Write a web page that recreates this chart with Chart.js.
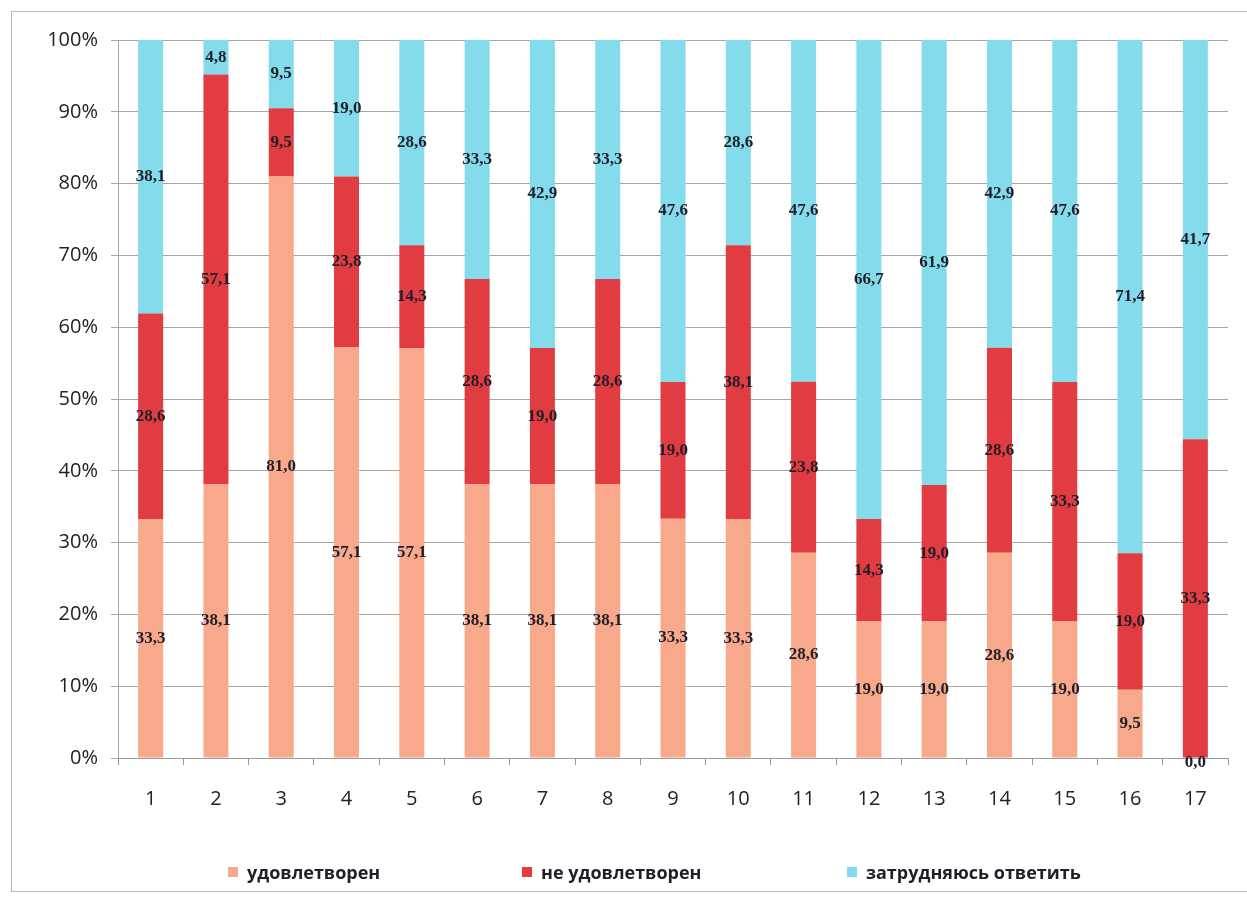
<!DOCTYPE html>
<html>
<head>
<meta charset="utf-8">
<script src="https://cdn.jsdelivr.net/npm/chart.js@4.4.1/dist/chart.umd.min.js"></script>
<style>
  html, body { margin:0; padding:0; background:#fff; }
  #wrap { position:relative; width:1247px; height:899px; overflow:hidden; }
  #frame { position:absolute; left:11px; top:11px; width:1260px; height:881px; border:1px solid #b8b8b8; box-sizing:border-box; }
  canvas { position:absolute; left:0; top:0; }
  .lg { position:absolute; top:862px; height:20px; display:flex; align-items:center;
        font:bold 18px "Open Sans", sans-serif; color:#1f1f2a; white-space:nowrap; }
  .lg i { display:inline-block; width:10px; height:10px; margin-right:9px; }
</style>
</head>
<body>
<div id="wrap">
  <div id="frame"></div>
  <canvas id="chart" width="1247" height="899"></canvas>
</div>
<script>
// ── Data ─────────────────────────────────────────────────────────────────────
const categories = ['1','2','3','4','5','6','7','8','9','10','11','12','13','14','15','16','17'];
const satisfied    = [33.3, 38.1, 81.0, 57.1, 57.1, 38.1, 38.1, 38.1, 33.3, 33.3, 28.6, 19.0, 19.0, 28.6, 19.0,  9.5,  0.0];
const notSatisfied = [28.6, 57.1,  9.5, 23.8, 14.3, 28.6, 19.0, 28.6, 19.0, 38.1, 23.8, 14.3, 19.0, 28.6, 33.3, 19.0, 33.3];
const undecided    = [38.1,  4.8,  9.5, 19.0, 28.6, 33.3, 42.9, 33.3, 47.6, 28.6, 47.6, 66.7, 61.9, 42.9, 47.6, 71.4, 41.7];
const seriesNames  = ['удовлетворен', 'не удовлетворен', 'затрудняюсь ответить'];
const yTicks = [0,10,20,30,40,50,60,70,80,90,100];

const COLORS = ['#f8a98b', '#e03c42', '#84dbeb'];

// 100% stacked: share of each series within its column
const totals = categories.map((_,i) => satisfied[i] + notSatisfied[i] + undecided[i]);
const share = arr => arr.map((v,i) => totals[i] ? v / totals[i] * 100 : 0);

const ds = (label, raw, color) => ({
  label, data: share(raw), raw,
  backgroundColor: color, borderWidth:0,
  barPercentage:0.383, categoryPercentage:1
});

// ── Value labels at segment centres ──────────────────────────────────────────
const valueLabels = {
  id:'valueLabels',
  afterDatasetsDraw(chart) {
    const ctx = chart.ctx;
    ctx.save();
    ctx.font = 'bold 17px "Liberation Serif", "DejaVu Serif", serif';
    ctx.fillStyle = '#1f1f2a';
    ctx.textAlign = 'center';
    ctx.textBaseline = 'middle';
    chart.data.datasets.forEach((d, di) => {
      chart.getDatasetMeta(di).data.forEach((bar, i) => {
        const { x, y, base } = bar.getProps(['x','y','base'], true);
        const cy = (y + base) / 2 + (d.raw[i] === 0 ? 5 : 0);
        ctx.fillText(d.raw[i].toFixed(1).replace('.', ','), x, cy);
      });
    });
    ctx.restore();
  }
};

const chart = new Chart(document.getElementById('chart').getContext('2d'), {
  type:'bar',
  data:{ labels:categories, datasets:[
    ds(seriesNames[0], satisfied, COLORS[0]),
    ds(seriesNames[1], notSatisfied, COLORS[1]),
    ds(seriesNames[2], undecided, COLORS[2])
  ]},
  options:{
    responsive:false, animation:false,
    layout:{ padding:{ left:22, right:19, top:40, bottom:0 } },
    plugins:{ tooltip:{ enabled:false }, legend:{ display:false } },
    scales:{
      x:{
        stacked:true,
        grid:{ offset:true, drawOnChartArea:false, tickLength:7, color:'#9a9a9a' },
        border:{ color:'#9a9a9a' },
        ticks:{ color:'#222', font:{ family:'"Open Sans", sans-serif', size:20 }, padding:22 },
        afterFit(s){ s.height = 141; }
      },
      y:{
        stacked:true, min:0, max:100,
        afterBuildTicks(s){ s.ticks = yTicks.map(v => ({ value:v })); },
        grid:{ color:'#a6a6a6', tickLength:7 },
        border:{ color:'#a6a6a6' },
        ticks:{ color:'#222', font:{ family:'"Open Sans", sans-serif', size:20 }, padding:13, callback:v => v + '%' },
        afterFit(s){ s.width = 96; }
      }
    }
  },
  plugins:[valueLabels]
});

// ── Legend (HTML, below the plot) ────────────────────────────────────────────
const legendX = [228, 522, 847];
chart.data.datasets.forEach((d, i) => {
  const el = document.createElement('div');
  el.className = 'lg';
  el.style.left = legendX[i] + 'px';
  el.innerHTML = '<i style="background:' + d.backgroundColor + '"></i>' + d.label;
  document.getElementById('wrap').appendChild(el);
});
</script>
</body>
</html>
